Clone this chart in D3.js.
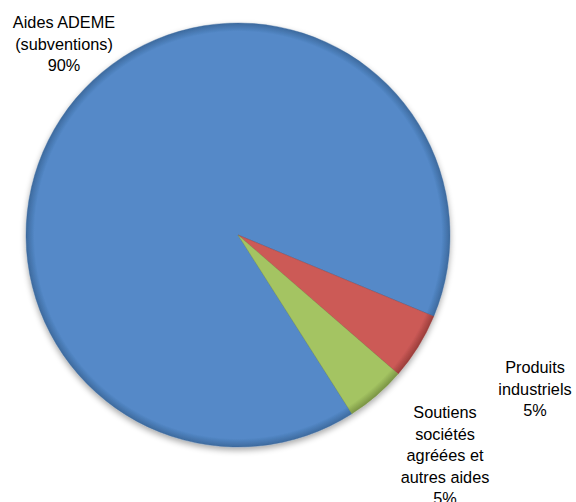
<!DOCTYPE html>
<html lang="fr">
<head>
  <meta charset="UTF-8" />
  <title>Répartition des financements</title>
  <script src="https://d3js.org/d3.v7.min.js"></script>
  <style>
    body {
      margin: 0;
      background: #fff;
    }
    svg {
      display: block;
    }
    .label {
      font-family: "Liberation Sans", Arial, sans-serif;
      font-size: 16.3px;
      fill: #000;
    }
  </style>
</head>
<body>
  <svg></svg>

  <script>
    const categories = ["Aides ADEME (subventions)", "Produits industriels", "Soutiens sociétés agréées et autres aides"];
    const values = [90.3, 5.1, 4.6];
    // label lines as drawn on the chart (percentage added from the data)
    const labelLines = [
      ["Aides ADEME", "(subventions)"],
      ["Produits", "industriels"],
      ["Soutiens", "sociétés", "agréées et", "autres aides"]
    ];
    const colors = ["#5489c8", "#cc5a57", "#a4c462"];
    const edgeColors = ["#3d6a9e", "#9a3d3a", "#7a9444"];

    const width = 576;
    const height = 502;
    const cx = 238, cy = 235;
    const radius = 212;

    const data = categories.map((c, i) => ({ category: c, value: values[i], lines: labelLines[i] }));
    const total = d3.sum(values);

    const svg = d3.select("svg")
      .attr("width", width)
      .attr("height", height);

    const defs = svg.append("defs");
    const shadow = defs.append("filter").attr("id", "shadow")
      .attr("x", "-10%").attr("y", "-10%").attr("width", "120%").attr("height", "125%");
    shadow.append("feGaussianBlur").attr("in", "SourceAlpha").attr("stdDeviation", 3);
    shadow.append("feOffset").attr("dy", 3).attr("result", "blur");
    shadow.append("feComponentTransfer").append("feFuncA").attr("type", "linear").attr("slope", 0.35);
    const merge = shadow.append("feMerge");
    merge.append("feMergeNode");
    merge.append("feMergeNode").attr("in", "SourceGraphic");

    // soft bevel: darker rim near the outside of each slice
    colors.forEach((c, i) => {
      const g = defs.append("radialGradient").attr("id", "grad" + i)
        .attr("gradientUnits", "userSpaceOnUse")
        .attr("cx", 0).attr("cy", 0).attr("r", radius);
      g.append("stop").attr("offset", "0%").attr("stop-color", c);
      g.append("stop").attr("offset", "96%").attr("stop-color", c);
      g.append("stop").attr("offset", "100%").attr("stop-color", edgeColors[i]);
    });

    const g = svg.append("g")
      .attr("transform", `translate(${cx},${cy})`);

    const start = 147.5 * Math.PI / 180;
    const pie = d3.pie().sort(null).value(d => d.value)
      .startAngle(start).endAngle(start + 2 * Math.PI);
    const arc = d3.arc().innerRadius(0).outerRadius(radius);

    const slices = g.append("g").attr("filter", "url(#shadow)");
    slices.selectAll("path")
      .data(pie(data))
      .enter()
      .append("path")
      .attr("d", arc)
      .attr("fill", (d, i) => `url(#grad${i})`)
      .attr("stroke", (d, i) => edgeColors[i])
      .attr("stroke-opacity", 0.5)
      .attr("stroke-width", 0.8);

    // label positions (centre x, first baseline) relative to the chart
    const labelPos = [[64, 28], [535, 373], [445, 418]];
    const lineH = 21.5;

    data.forEach((d, i) => {
      const lines = d.lines.concat([Math.round(d.value / total * 100) + "%"]);
      const t = svg.append("text")
        .attr("class", "label")
        .attr("text-anchor", "middle");
      lines.forEach((l, j) => {
        t.append("tspan")
          .attr("x", labelPos[i][0])
          .attr("y", labelPos[i][1] + j * lineH)
          .text(l);
      });
    });
  </script>
</body>
</html>
